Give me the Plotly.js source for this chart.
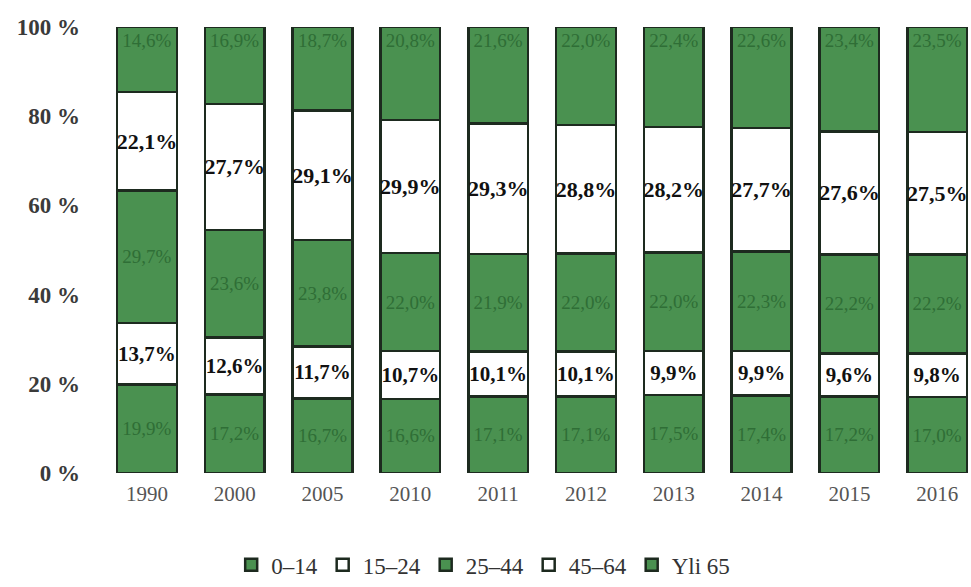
<!DOCTYPE html>
<html>
<head>
<meta charset="utf-8">
<script src="https://cdn.plot.ly/plotly-3.0.1.min.js"></script>
<style>html,body{margin:0;padding:0;background:#fff}#chart{width:971px;height:587px}</style>
</head>
<body>
<div id="chart"></div>
<script>
var years = ['1990','2000','2005','2010','2011','2012','2013','2014','2015','2016'];
var seriesNames = ['0–14','15–24','25–44','45–64','Yli 65'];
var age0_14  = [19.9, 17.2, 16.7, 16.6, 17.1, 17.1, 17.5, 17.4, 17.2, 17.0];
var age15_24 = [13.7, 12.6, 11.7, 10.7, 10.1, 10.1,  9.9,  9.9,  9.6,  9.8];
var age25_44 = [29.7, 23.6, 23.8, 22.0, 21.9, 22.0, 22.0, 22.3, 22.2, 22.2];
var age45_64 = [22.1, 27.7, 29.1, 29.9, 29.3, 28.8, 28.2, 27.7, 27.6, 27.5];
var age65    = [14.6, 16.9, 18.7, 20.8, 21.6, 22.0, 22.4, 22.6, 23.4, 23.5];
var yTicks = [0, 20, 40, 60, 80, 100];
var yTickText = ['0 %', '20 %', '40 %', '60 %', '80 %', '100 %'];

var SERIF = 'Liberation Serif, Times New Roman, serif';
var GREEN = '#4a9150';
var BORDER = '#1d2a1f';
function fmt(arr){ return arr.map(function(v){ return v.toFixed(1).replace('.', ',') + '%'; }); }

function mk(name, vals, fill, txtColor, bold, anchor, size){
  return {
    type: 'bar', name: name, x: years, y: vals,
    text: fmt(vals), textposition: 'inside', textangle: 0,
    insidetextanchor: anchor || 'middle', constraintext: 'none',
    textfont: {family: SERIF, size: size, color: txtColor, weight: bold ? 'bold' : 'normal'},
    marker: {color: fill, line: {color: BORDER, width: 2.5}},
    hoverinfo: 'x+name+text'
  };
}
var data = [
  mk(seriesNames[0], age0_14, GREEN, '#2f6e36', false, 'middle', 19),
  mk(seriesNames[1], age15_24, '#ffffff', '#111111', true, 'middle', 21),
  mk(seriesNames[2], age25_44, GREEN, '#2f6e36', false, 'middle', 19),
  mk(seriesNames[3], age45_64, '#ffffff', '#111111', true, 'middle', 22),
  mk(seriesNames[4], age65, GREEN, '#2f6e36', false, 'end', 19)
];

var layout = {
  width: 971, height: 587,
  font: {family: SERIF, color: '#333333'},
  margin: {l: 103, r: 0, t: 27, b: 114},
  paper_bgcolor: '#ffffff', plot_bgcolor: '#ffffff',
  barmode: 'stack', barnorm: 'percent', bargap: 0.32,
  showlegend: true,
  xaxis: {
    type: 'category', range: [-0.5, 9.385], showgrid: false, showline: false, zeroline: false,
    ticks: '', tickfont: {family: SERIF, size: 21, color: '#555555'}, ticklabelstandoff: 6
  },
  yaxis: {
    range: [0, 100], tickmode: 'array', tickvals: yTicks, ticktext: yTickText,
    showgrid: false, zeroline: false, showline: false, ticks: '',
    tickfont: {family: SERIF, size: 23, color: '#3a3a3a', weight: 'bold'}, ticklabelstandoff: 22
  },
  legend: {
    orientation: 'h', x: 0.438, xanchor: 'center', y: -0.206, yanchor: 'middle',
    font: {family: SERIF, size: 23, color: '#333333'},
    itemwidth: 30, traceorder: 'normal'
  }
};
Plotly.newPlot('chart', data, layout, {displayModeBar: false, staticPlot: true});
</script>
</body>
</html>
